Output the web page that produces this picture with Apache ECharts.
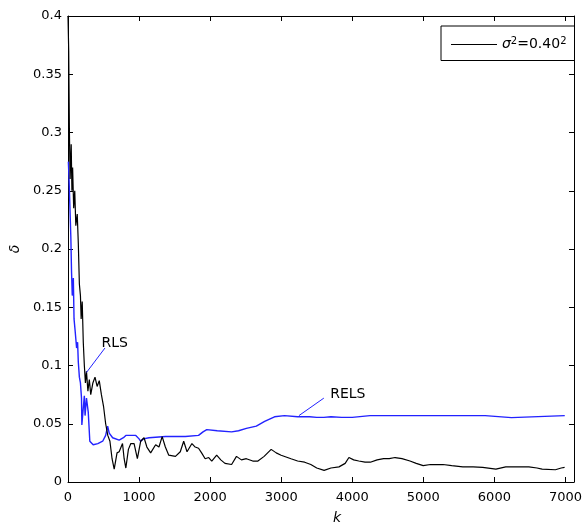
<!DOCTYPE html>
<html><head><meta charset="utf-8">
<script src="https://cdn.jsdelivr.net/npm/echarts@6/dist/echarts.min.js"></script>
<style>html,body{margin:0;padding:0;background:#fff}#c{width:585px;height:530px}</style>
</head><body><div id="c"></div>
<script>
// black curve (legend: sigma^2=0.40^2)
const kBlack = [0,10,20,30,45,55,65,80,95,110,130,145,160,175,185,200,215,230,245,260,280,300,320,350,380,410,440,470,500,530,560,590,620,650,690,720,767,790,814,850,884,930,976,1023,1070,1110,1163,1233,1280,1325,1370,1418,1512,1580,1628,1675,1744,1790,1837,1880,1930,1980,2023,2092,2150,2209,2302,2371,2440,2510,2600,2673,2760,2859,2930,2999,3138,3231,3330,3417,3500,3604,3700,3813,3900,3953,4020,4092,4180,4254,4350,4441,4520,4603,4700,4812,4900,4998,5100,5277,5400,5556,5700,5835,6021,6160,6300,6485,6600,6672,6858,6940,6988];
const dBlack = [0.40,0.37,0.30,0.26,0.29,0.25,0.27,0.235,0.25,0.22,0.23,0.205,0.17,0.16,0.14,0.155,0.12,0.10,0.085,0.095,0.078,0.088,0.075,0.085,0.09,0.082,0.087,0.075,0.065,0.05,0.04,0.035,0.02,0.011,0.025,0.026,0.033,0.02,0.012,0.028,0.033,0.033,0.020,0.035,0.038,0.030,0.025,0.032,0.030,0.039,0.030,0.023,0.022,0.026,0.035,0.026,0.033,0.030,0.029,0.025,0.020,0.021,0.018,0.023,0.019,0.016,0.015,0.022,0.019,0.020,0.018,0.018,0.022,0.028,0.025,0.023,0.020,0.018,0.017,0.015,0.012,0.010,0.012,0.013,0.016,0.021,0.019,0.018,0.017,0.017,0.019,0.020,0.020,0.021,0.020,0.018,0.016,0.014,0.015,0.015,0.014,0.013,0.013,0.0125,0.011,0.013,0.013,0.013,0.012,0.011,0.0105,0.012,0.0125];
// blue curve
const kBlue = [5,15,25,40,50,60,75,85,100,121,135,145,160,175,190,195,210,230,240,260,285,307,354,420,488,530,558,580,628,720,780,814,954,1000,1023,1060,1140,1372,1651,1837,1900,1953,2100,2302,2400,2510,2650,2767,2906,3046,3231,3400,3500,3600,3700,3850,4000,4250,5870,5880,6240,6250,6990];
const dBlue = [0.275,0.26,0.24,0.21,0.18,0.16,0.175,0.14,0.13,0.115,0.12,0.103,0.09,0.085,0.072,0.049,0.06,0.074,0.057,0.072,0.06,0.035,0.032,0.033,0.035,0.040,0.048,0.042,0.038,0.036,0.038,0.040,0.040,0.037,0.035,0.037,0.038,0.039,0.039,0.040,0.043,0.045,0.044,0.043,0.044,0.046,0.048,0.052,0.056,0.057,0.056,0.056,0.0555,0.0555,0.056,0.0555,0.0555,0.057,0.057,0.0553,0.0553,0.057,0.057];
const xTicks = [0,1000,2000,3000,4000,5000,6000,7000];
const yTicks = [0,0.05,0.1,0.15,0.2,0.25,0.3,0.35,0.4];
// annotations
const rlsLine = [[260,0.094],[520,0.115]];
const relsLine = [[3250,0.057],[3600,0.072]];
const rlsText = [470,0.119];
const relsText = [3690,0.075];

const FONT = 'DejaVu Sans';
const BLUE = '#2222ff';
const chart = echarts.init(document.getElementById('c'));
const lblY = {color:'#000', fontFamily:FONT, fontSize:13, margin:6};
const lblX = {color:'#000', fontFamily:FONT, fontSize:13, margin:9};
const xMax = 7120;
chart.setOption({
  animation:false,
  backgroundColor:'#fff',
  grid:{left:68, right:7, top:16, bottom:46},
  legend:{
    left:441, top:26, data:['s'], orient:'horizontal',
    borderColor:'#000', borderWidth:1, borderRadius:0, padding:[10,8,9,10],
    icon:'rect', itemWidth:46, itemHeight:1,
    formatter:()=>'{i|σ}{s|2}{n|=0.40}{s|2}',
    textStyle:{color:'#000', fontFamily:FONT, fontSize:14,
      rich:{i:{fontStyle:'italic', fontSize:14, fontFamily:FONT},
            n:{fontSize:14, fontFamily:FONT},
            s:{fontSize:10, fontFamily:FONT, padding:[0,0,7,0]}}}
  },
  xAxis:[
    {type:'value', min:0, max:xMax, interval:1000, position:'bottom',
     axisLine:{show:true, onZero:false, lineStyle:{color:'#000', width:1}},
     axisTick:{show:true, inside:true, length:5, lineStyle:{color:'#000'}},
     axisLabel:Object.assign({showMaxLabel:false, formatter:v=>xTicks.includes(v)?String(v):''}, lblX),
     splitLine:{show:false},
     name:'k', nameLocation:'middle', nameGap:29,
     nameTextStyle:{color:'#000', fontFamily:FONT, fontSize:14, fontStyle:'italic', padding:[0,0,0,32]}},
    {type:'value', min:0, max:xMax, interval:1000, position:'top',
     axisLine:{show:true, onZero:false, lineStyle:{color:'#000', width:1}},
     axisTick:{show:true, inside:true, length:5, lineStyle:{color:'#000'}},
     axisLabel:{show:false}, splitLine:{show:false}}
  ],
  yAxis:[
    {type:'value', min:0, max:0.4, interval:0.05, position:'left',
     axisLine:{show:true, onZero:false, lineStyle:{color:'#000', width:1}},
     axisTick:{show:true, inside:true, length:5, lineStyle:{color:'#000'}},
     axisLabel:Object.assign({formatter:v=>{const t=yTicks.find(x=>Math.abs(x-v)<1e-9);return t===undefined?'':String(+t.toFixed(2));}}, lblY),
     splitLine:{show:false},
     name:'δ', nameLocation:'middle', nameGap:40,
     nameTextStyle:{color:'#000', fontFamily:FONT, fontSize:14, fontStyle:'italic'}},
    {type:'value', min:0, max:0.4, interval:0.05, position:'right',
     axisLine:{show:true, onZero:false, lineStyle:{color:'#000', width:1}},
     axisTick:{show:true, inside:true, length:5, lineStyle:{color:'#000'}},
     axisLabel:{show:false}, splitLine:{show:false}}
  ],
  series:[
    {name:'b', type:'line', data:kBlue.map((k,i)=>[k,dBlue[i]]), symbol:'none',
     lineStyle:{color:BLUE, width:1.4}, itemStyle:{color:BLUE}, z:2,
     markLine:{silent:true, symbol:'none', label:{show:false},
       lineStyle:{color:BLUE, width:1, type:'solid'},
       data:[[{coord:rlsLine[0]},{coord:rlsLine[1]}],[{coord:relsLine[0]},{coord:relsLine[1]}]]},
     markPoint:{silent:true, symbol:'circle', symbolSize:0,
       label:{show:true, position:'right', distance:0, color:'#000', fontFamily:FONT, fontSize:14, formatter:p=>p.name},
       data:[{name:'RLS', coord:rlsText},{name:'RELS', coord:relsText}]}},
    {name:'s', type:'line', data:kBlack.map((k,i)=>[k,dBlack[i]]), symbol:'none',
     lineStyle:{color:'#000', width:1.2}, itemStyle:{color:'#000'}, z:3}
  ]
});
</script></body></html>
